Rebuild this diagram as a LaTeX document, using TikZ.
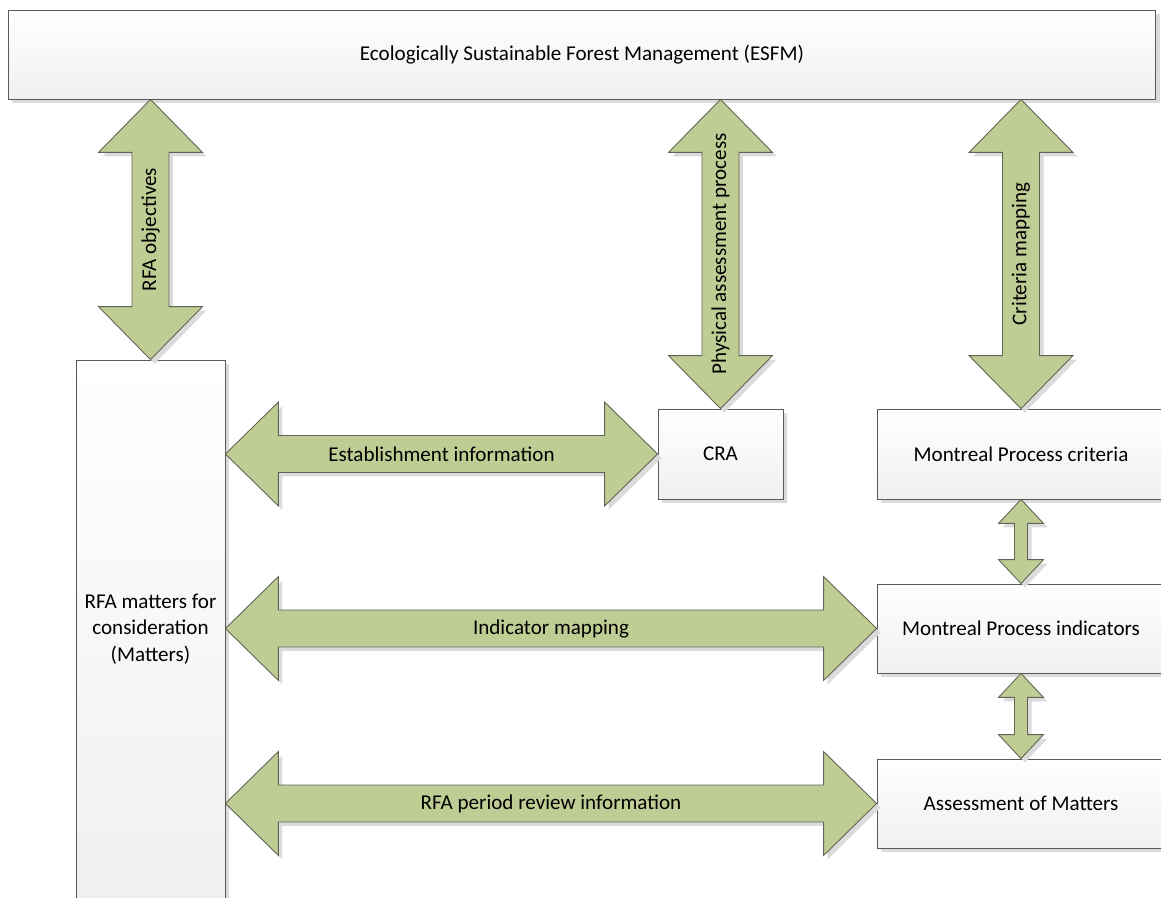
\documentclass[tikz,border=0pt]{standalone}
\usepackage{fontspec}
\setmainfont{Carlito}
\usetikzlibrary{calc,shadows}
\definecolor{olivefill}{RGB}{191,204,148}
\definecolor{olivedraw}{RGB}{95,100,85}
\tikzset{
  box/.style={draw=black!65, line width=0.5pt, top color=white, bottom color=black!6,
    drop shadow={shadow xshift=0.08cm, shadow yshift=-0.08cm, fill=black!14, opacity=1},
    inner sep=0pt, align=center, font=\fontsize{12}{15}\selectfont},
  greenarrow/.style={draw=olivedraw, line width=0.5pt, fill=olivefill, line join=miter,
    drop shadow={shadow xshift=0.08cm, shadow yshift=-0.08cm, fill=black!14, opacity=1}},
  lbl/.style={inner sep=0pt, font=\fontsize{12}{15}\selectfont}
}
% #1 from, #2 to, #3 head length, #4 head half width, #5 shaft half width
\newcommand{\dblarrow}[5]{%
  \draw[greenarrow] (#1)
    -- ($(#1)!#3!(#2)!#4!90:(#2)$) -- ($(#1)!#3!(#2)!#5!90:(#2)$)
    -- ($(#2)!#3!(#1)!#5!-90:(#1)$) -- ($(#2)!#3!(#1)!#4!-90:(#1)$)
    -- (#2)
    -- ($(#2)!#3!(#1)!#4!90:(#1)$) -- ($(#2)!#3!(#1)!#5!90:(#1)$)
    -- ($(#1)!#3!(#2)!#5!-90:(#2)$) -- ($(#1)!#3!(#2)!#4!-90:(#2)$)
    -- cycle;}
\newcommand{\bigarrow}[2]{\dblarrow{#1}{#2}{1.06cm}{1.04cm}{0.37cm}}
\newcommand{\smallarrow}[2]{\dblarrow{#1}{#2}{0.48cm}{0.45cm}{0.13cm}}
\begin{document}
\begin{tikzpicture}[x=0.02cm, y=-0.02cm]
\useasboundingbox (0,0) rectangle (1161,898);
\fill[white] (0,0) rectangle (1161,898);
\clip (0,0) rectangle (1161,898);

% boxes
\node[box, minimum width=22.96cm, minimum height=1.78cm] (esfm) at (582,54.5)
  {Ecologically Sustainable Forest Management (ESFM)};
\node[box, minimum width=2.98cm, minimum height=10.76cm] (matters) at (150.5,629)
  {RFA matters for\\consideration\\(Matters)};
\node[box, minimum width=2.5cm, minimum height=1.8cm] (cra) at (720.5,454) {CRA};
\node[box, minimum width=5.76cm, minimum height=1.8cm] (crit) at (1021,454)
  {Montreal Process criteria};
\node[box, minimum width=5.76cm, minimum height=1.78cm] (ind) at (1021,628.5)
  {Montreal Process indicators};
\node[box, minimum width=5.76cm, minimum height=1.78cm] (aom) at (1021,803.5)
  {Assessment of Matters};

% arrow ends
\coordinate (objtop) at (esfm.south -| matters.north);
\coordinate (phystop) at (esfm.south -| cra.north);
\coordinate (crittop) at (esfm.south -| crit.north);
\coordinate (estleft) at (matters.east |- cra.west);
\coordinate (indleft) at (matters.east |- ind.west);
\coordinate (revleft) at (matters.east |- aom.west);

% arrows
\bigarrow{objtop}{matters.north}
\bigarrow{phystop}{cra.north}
\bigarrow{crittop}{crit.north}
\bigarrow{estleft}{cra.west}
\bigarrow{indleft}{ind.west}
\bigarrow{revleft}{aom.west}
\smallarrow{crit.south}{ind.north}
\smallarrow{ind.south}{aom.north}

% arrow labels
\node[lbl, rotate=90] (objlbl) at ($(objtop)!0.5!(matters.north)$) {RFA objectives};
\node[lbl, rotate=90] (physlbl) at ($(phystop)!0.5!(cra.north)$) {Physical assessment process};
\node[lbl, rotate=90] (critlbl) at ($(crittop)!0.5!(crit.north)$) {Criteria mapping};
\node[lbl] (estlbl) at ($(estleft)!0.5!(cra.west)$) {Establishment information};
\node[lbl] (indlbl) at ($(indleft)!0.5!(ind.west)$) {Indicator mapping};
\node[lbl] (revlbl) at ($(revleft)!0.5!(aom.west)$) {RFA period review information};
\end{tikzpicture}
\end{document}
